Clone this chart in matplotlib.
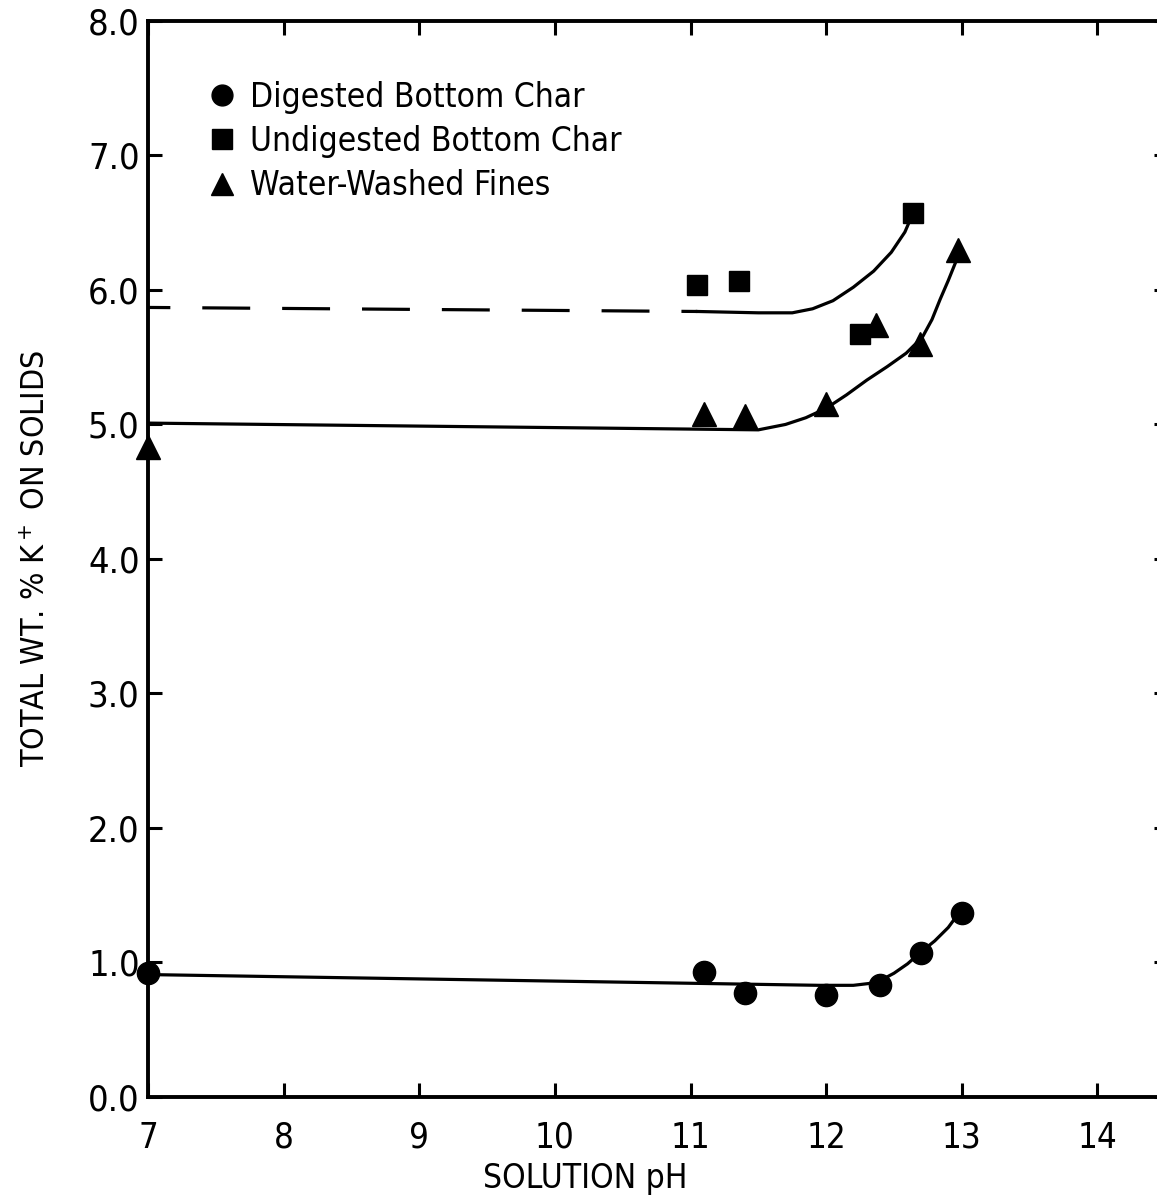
import matplotlib
matplotlib.use("Agg")
import matplotlib.pyplot as plt
from matplotlib.lines import Line2D

plt.rcParams['font.family'] = ['DejaVu Sans']
plt.rcParams['font.stretch'] = 'condensed'

# Measured points
ph_digested = [7.0, 11.1, 11.4, 12.0, 12.4, 12.7, 13.0]
k_digested = [0.92, 0.93, 0.77, 0.76, 0.83, 1.07, 1.37]

ph_undigested = [11.05, 11.36, 12.25, 12.64]
k_undigested = [6.04, 6.07, 5.67, 6.57]

ph_fines = [7.0, 11.1, 11.4, 12.0, 12.37, 12.69, 12.97]
k_fines = [4.83, 5.08, 5.06, 5.15, 5.74, 5.60, 6.30]

# Hand-drawn trend curves
curve_dig_x = [7.0, 11.95, 12.2, 12.37, 12.5, 12.6, 12.69, 12.8, 12.9, 12.98]
curve_dig_y = [0.91, 0.83, 0.83, 0.85, 0.92, 0.99, 1.07, 1.16, 1.26, 1.37]

curve_und_dash_x = [7.0, 11.05]
curve_und_dash_y = [5.87, 5.84]
curve_und_x = [11.05, 11.5, 11.75, 11.9, 12.05, 12.2, 12.35, 12.48, 12.58, 12.64]
curve_und_y = [5.84, 5.83, 5.83, 5.86, 5.92, 6.02, 6.14, 6.28, 6.43, 6.57]

curve_fin_x = [7.0, 11.5, 11.7, 11.85, 12.0, 12.15, 12.3, 12.45, 12.59,
               12.71, 12.78, 12.84, 12.9, 12.96]
curve_fin_y = [5.01, 4.96, 5.00, 5.05, 5.12, 5.22, 5.33, 5.43, 5.53,
               5.65, 5.78, 5.93, 6.07, 6.22]

x_ticks = [7, 8, 9, 10, 11, 12, 13, 14]
y_ticks = [0, 1, 2, 3, 4, 5, 6, 7, 8]

fig = plt.figure(figsize=(11.57, 12.04), dpi=100)
ax = fig.add_axes([0.1279, 0.0889, 0.8816, 0.8937])

lw = 2.3
ax.plot(curve_dig_x, curve_dig_y, color='black', lw=lw, zorder=2)
ax.plot(curve_und_dash_x, curve_und_dash_y, color='black', lw=lw,
        linestyle=(8, (15, 10)), zorder=2)
ax.plot(curve_und_x, curve_und_y, color='black', lw=lw, zorder=2)
ax.plot(curve_fin_x, curve_fin_y, color='black', lw=lw, zorder=2)

ax.plot(ph_digested, k_digested, 'o', color='black', ms=16, zorder=3, clip_on=False)
ax.plot(ph_undigested, k_undigested, 's', color='black', ms=15, zorder=3, clip_on=False)
ax.plot(ph_fines, k_fines, '^', color='black', ms=17, zorder=3, clip_on=False)

ax.set_xlim(7, 14.52)
ax.set_ylim(0, 8)
ax.set_xticks(x_ticks)
ax.set_yticks(y_ticks)
ax.set_yticklabels([f"{v:.1f}" for v in y_ticks])

for s in ax.spines.values():
    s.set_linewidth(2.8)

ax.tick_params(direction='in', length=10, width=2.2, top=True, right=True,
               labelsize=26)
ax.tick_params(axis='y', pad=6)
ax.tick_params(axis='x', pad=17, labelsize=25)

ax.set_xlabel("SOLUTION pH", fontsize=24)
ax.xaxis.set_label_coords((585 - 148) / 1020, -0.06)
ax.set_ylabel("TOTAL WT. % K$^+$ ON SOLIDS", fontsize=23, labelpad=26)

handles = [
    Line2D([], [], marker='o', color='black', ls='none', ms=15),
    Line2D([], [], marker='s', color='black', ls='none', ms=14),
    Line2D([], [], marker='^', color='black', ls='none', ms=16),
]
labels = ["Digested Bottom Char", "Undigested Bottom Char", "Water-Washed Fines"]
ax.legend(handles, labels, loc='upper left', bbox_to_anchor=(0.044, 0.96),
          frameon=False, fontsize=24, handlelength=0.75, handletextpad=0.45,
          labelspacing=0.34, borderpad=0)

fig.savefig("out.png", dpi=100)
